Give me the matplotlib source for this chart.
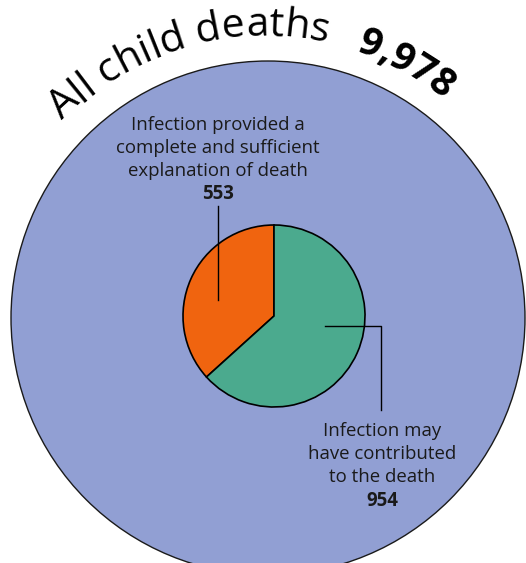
import numpy as np
import matplotlib
matplotlib.use("Agg")
from matplotlib import pyplot as plt
from matplotlib.patches import Circle
from matplotlib.font_manager import FontProperties

# 数据
total_label = "All child deaths"
total_value = 9978
slice_values = [553, 954]
slice_colors = ["#F0640F", "#4BAA8E"]
slice_labels = ["Infection provided a\ncomplete and sufficient\nexplanation of death",
                "Infection may\nhave contributed\nto the death"]

W, H = 526, 563
FONT = "Open Sans"

fig = plt.figure(figsize=(W / 100, H / 100), dpi=100)
ax = fig.add_axes([0, 0, 1, 1])


def py(y):
    # 像素坐标(向下)转数据坐标(向上)
    return H - y


# 大圆：全部儿童死亡
cx, cy, big_r = 268, py(318), 257
ax.add_patch(Circle((cx, cy), big_r, facecolor="#919FD3", edgecolor="#1a1a1a", lw=1.0, zorder=1))

# 小饼图
ax.pie(slice_values, colors=slice_colors, startangle=90, counterclock=True,
       center=(274, py(316)), radius=91,
       wedgeprops=dict(edgecolor="black", linewidth=1.2, zorder=3))

ax.set_xlim(0, W)
ax.set_ylim(0, H)
ax.set_aspect("equal")
ax.axis("off")

renderer = fig.canvas.get_renderer()


def text_width(s, prop):
    if not s:
        return 0.0
    w1, _, _ = renderer.get_text_width_height_descent(s + "x", prop, ismath=False)
    w0, _, _ = renderer.get_text_width_height_descent("x", prop, ismath=False)
    return w1 - w0


def arc_text(s, start_deg, radius, center, prop):
    """沿圆弧顺时针逐字排布文字"""
    for i, ch in enumerate(s):
        if ch == " ":
            continue
        a = text_width(s[:i], prop)
        b = text_width(s[:i + 1], prop)
        mid = (a + b) / 2
        ang = np.radians(start_deg) - mid / radius
        x = center[0] + radius * np.cos(ang)
        y = center[1] + radius * np.sin(ang)
        ax.text(x, y, ch, fontproperties=prop, ha="center", va="baseline",
                rotation=np.degrees(ang) - 90, rotation_mode="anchor", zorder=5)


arc_center = (264, py(318.6))
arc_text(total_label, 135.5, 283, arc_center, FontProperties(family=FONT, size=29.5))
arc_text(f"{total_value:,}", 71.0, 283, arc_center, FontProperties(family=FONT, size=28, weight="bold"))

# 标签
def label_block(x, baselines, text, value):
    for yb, line in zip(baselines, text.split("\n")):
        ax.text(x, py(yb), line, family=FONT, fontsize=13.4, ha="center", va="baseline",
                color="#1a1a1a", zorder=5)
    ax.text(x, py(baselines[-1]), f"{value:,}", family=FONT, fontsize=13.4, weight="bold",
            ha="center", va="baseline", color="#1a1a1a", zorder=5)


label_block(218, [130, 153, 176, 199], slice_labels[0], slice_values[0])
label_block(382, [436, 459, 482, 506], slice_labels[1], slice_values[1])

# 引线
ax.plot([218, 218], [py(206), py(300)], color="black", lw=1, zorder=6)
ax.plot([325, 381, 381], [py(326), py(326), py(410)], color="black", lw=1, zorder=6)

fig.savefig("out.png", dpi=100)
